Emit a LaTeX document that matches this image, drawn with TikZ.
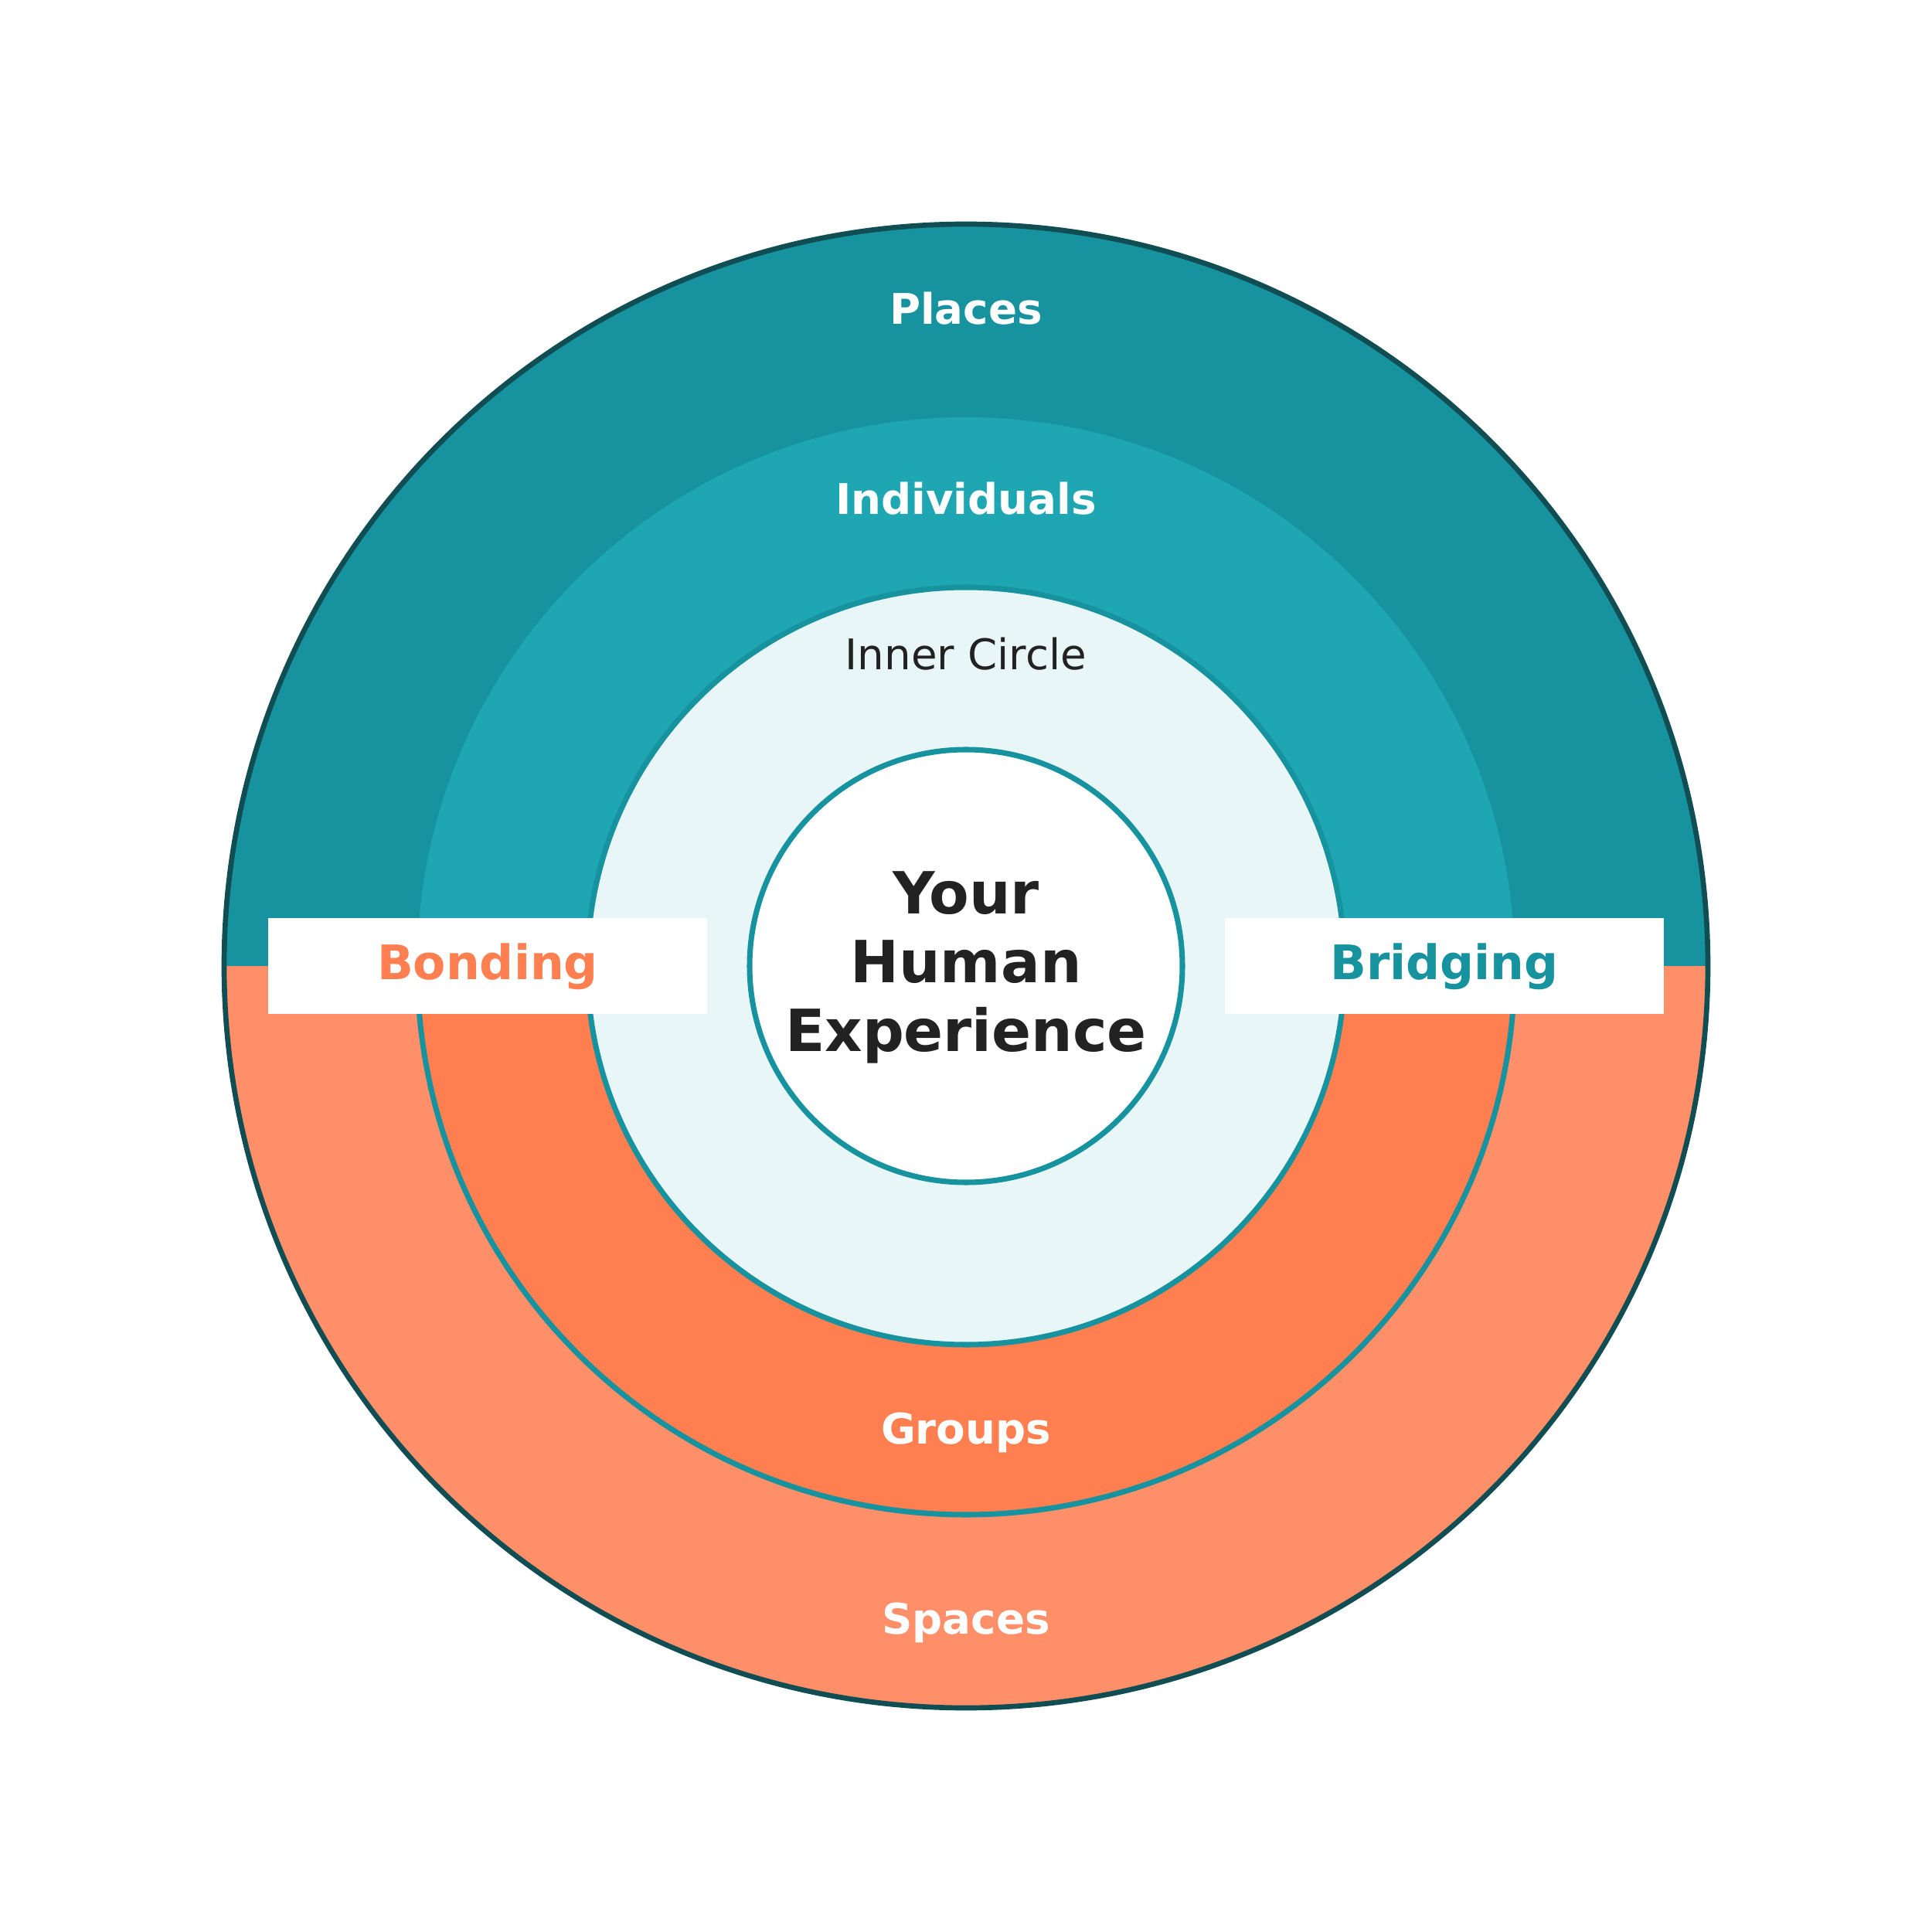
\documentclass[tikz,border=0pt]{standalone}
\usepackage{xcolor}
\usepackage{fontspec}
\setmainfont{DejaVu Sans}
\usepackage{tikz}

\definecolor{placesteal}{HTML}{1793A0}
\definecolor{indivteal}{HTML}{1EA7B2}
\definecolor{innerfill}{HTML}{E8F6F7}
\definecolor{spacescoral}{HTML}{FF8F68}
\definecolor{groupscoral}{HTML}{FF7F50}
\definecolor{rimdark}{HTML}{104E54}
\definecolor{inkdark}{HTML}{222222}

\begin{document}
\begin{tikzpicture}[thick]
        \tikzset{ring/.style={circle, draw=placesteal, line width=2pt, inner sep=0pt}}
        \tikzset{lbl/.style={anchor=base, text=white, font=\bfseries\fontsize{15.55}{19}\selectfont}}
        \tikzset{tag/.style={fill=white, minimum width=5.68cm, minimum height=1.23cm, inner sep=0pt}}
        \tikzset{tagtext/.style={anchor=base, font=\bfseries\fontsize{17.5}{21}\selectfont}}
        \useasboundingbox (-12.5,-12.5) rectangle (12.5,12.5);

	%---RINGS---
        \fill[placesteal]  (9.6,0) arc (0:180:9.6) -- cycle;
        \fill[spacescoral] (-9.6,0) arc (180:360:9.6) -- cycle;
        \node[circle, draw=rimdark, line width=1.9pt, inner sep=0pt, minimum size=19.2cm] (outer) at (0,0) {};

        \fill[indivteal]   (7.1,0) arc (0:180:7.1) -- cycle;
        \fill[groupscoral] (-7.1,0) arc (180:360:7.1) -- cycle;
        \draw[placesteal, line width=2pt] (-7.1,0) arc (180:360:7.1);

	%---NODES---
        \node[ring, fill=innerfill, minimum size=9.8cm] (inner) at (0,0) {};
        \node[ring, fill=white, minimum size=5.6cm] (you) at (0,0) {};

        \node[align=center, text=inkdark, font=\bfseries\fontsize{21.4}{25.3}\selectfont] (youtext) at (0,-0.02) {Your\\Human\\Experience};

        \node[lbl] (places) at (0,8.30) {Places};
        \node[lbl] (individuals) at (0,5.84) {Individuals};
        \node[lbl, text=inkdark, font=\fontsize{15.55}{19}\selectfont] (innertext) at (0,3.83) {Inner Circle};
        \node[lbl] (groups) at (0,-6.18) {Groups};
        \node[lbl] (spaces) at (0,-8.64) {Spaces};

	%---TAGS---
        \node[tag] (bondbox) at (-6.19,0) {};
        \node[tag] (bridgebox) at (6.19,0) {};
        \node[tagtext, text=groupscoral] (bonding) at (-6.19,-0.17) {Bonding};
        \node[tagtext, text=placesteal] (bridging) at (6.19,-0.17) {Bridging};
    \end{tikzpicture}
\end{document}
